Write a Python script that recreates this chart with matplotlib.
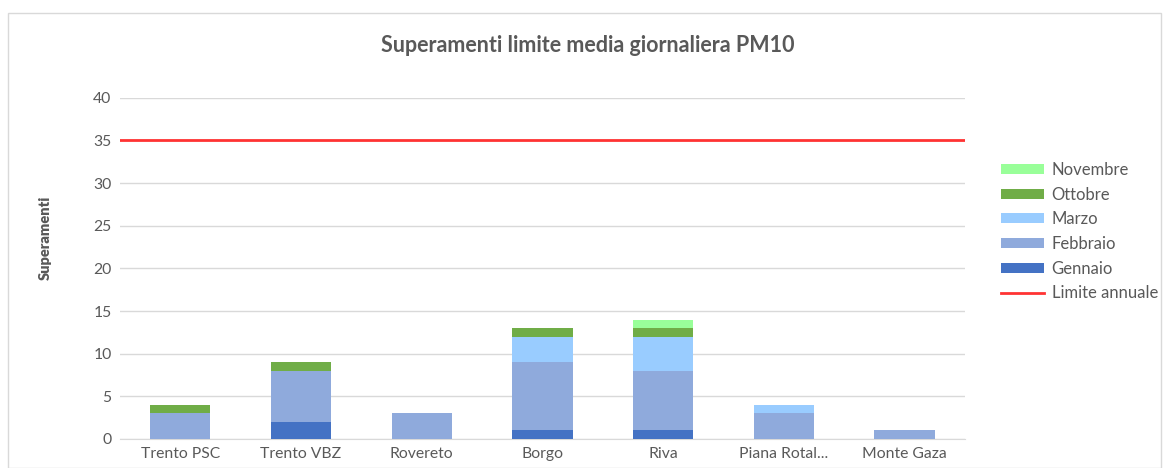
import matplotlib
matplotlib.use("Agg")
import matplotlib.pyplot as plt
import numpy as np
from matplotlib.patches import Rectangle

stations = ["Trento PSC", "Trento VBZ", "Rovereto", "Borgo", "Riva", "Piana Rotal...", "Monte Gaza"]
gennaio = [0, 2, 0, 1, 1, 0, 0]
febbraio = [3, 6, 3, 8, 7, 3, 1]
marzo = [0, 0, 0, 3, 4, 1, 0]
ottobre = [1, 1, 0, 1, 1, 0, 0]
novembre = [0, 0, 0, 0, 1, 0, 0]
limite = 35

series = [
    ("Gennaio", gennaio, "#4472c4"),
    ("Febbraio", febbraio, "#8faadc"),
    ("Marzo", marzo, "#99ccff"),
    ("Ottobre", ottobre, "#70ad47"),
    ("Novembre", novembre, "#99ff99"),
]

plt.rcParams["font.family"] = ["Lato", "DejaVu Sans"]
txt = "#595959"

fig = plt.figure(figsize=(11.64, 4.68), dpi=100)
ax = fig.add_axes([0.103, 0.062, 0.726, 0.729])

x = np.arange(len(stations))
bottom = np.zeros(len(stations))
handles = []
for name, vals, col in series:
    h = ax.bar(x, vals, 0.5, bottom=bottom, color=col, label=name, zorder=3)
    handles.append(h)
    bottom += np.array(vals)
ln = ax.axhline(limite, color="#ff3333", lw=2, label="Limite annuale", zorder=4)

ax.set_xlim(-0.5, len(stations) - 0.5)
ax.set_ylim(0, 40)
ax.set_yticks(range(0, 41, 5))
ax.set_xticks(x)
ax.set_xticklabels(stations)
ax.tick_params(length=0, labelsize=11.3, colors=txt, pad=6)
ax.yaxis.grid(True, color="#d9d9d9", lw=1, zorder=0)
for s in ["top", "right", "left"]:
    ax.spines[s].set_visible(False)
ax.spines["bottom"].set_color("#d9d9d9")

ax.set_ylabel("Superamenti", fontsize=10.5, fontweight="heavy", color=txt)
ax.yaxis.set_label_coords(-0.081, 0.59)
fig.suptitle("Superamenti limite media giornaliera PM10", x=0.505, y=0.925,
             fontsize=15.5, fontweight="bold", color=txt)

leg_handles = handles[::-1] + [ln]
leg = fig.legend(leg_handles, [h.get_label() for h in leg_handles], loc="center left",
                 bbox_to_anchor=(0.847, 0.505), frameon=False, fontsize=12,
                 handlelength=2.6, handleheight=0.55, labelspacing=0.52,
                 handletextpad=0.45)
for t in leg.get_texts():
    t.set_color(txt)

fig.patches.append(Rectangle((0.007, 0.0), 0.99, 0.972, transform=fig.transFigure,
                             fill=False, ec="#d9d9d9", lw=1))

fig.savefig("out.png", dpi=100)
